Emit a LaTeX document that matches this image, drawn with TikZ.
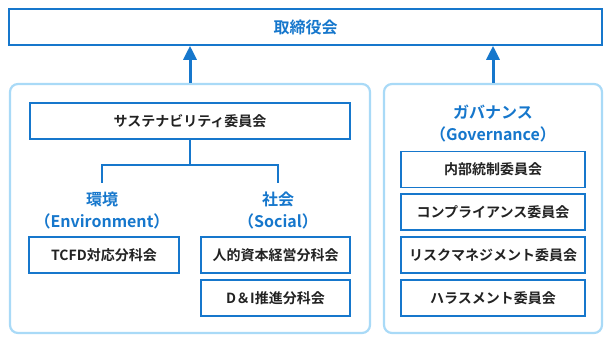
\documentclass[tikz,border=0pt]{standalone}
\usepackage{fontspec}
\setmainfont{Noto Sans CJK JP}[BoldFont={Noto Sans CJK JP Bold}]
\usepackage{tikz}
\usetikzlibrary{arrows.meta, positioning}
\definecolor{orgblue}{HTML}{1677CC}
\definecolor{grpblue}{HTML}{A9DAF7}
\definecolor{txtdark}{HTML}{222222}

\begin{document}
\begin{tikzpicture}[
  x=1pt, y=-1pt,
  every node/.style={font=\fontsize{14}{17}\selectfont\bfseries, text=txtdark},
  combox/.style={draw=orgblue, line width=1.6pt, minimum height=36pt, inner sep=0pt},
  grpbox/.style={draw=grpblue, line width=2.2pt, rounded corners=8pt, inner sep=0pt},
  headlabel/.style={font=\fontsize{16}{22}\selectfont\bfseries, text=orgblue, align=center, inner xsep=0pt, inner ysep=9pt},
  arrow/.style={-{Triangle[length=14pt, width=13pt]}, line width=3pt, draw=orgblue},
  branch/.style={draw=orgblue, line width=1.6pt},
]
\useasboundingbox (0,0) rectangle (612,342);

% Board of directors
\node[combox, minimum width=593pt, text=orgblue, font=\fontsize{16}{20}\selectfont\bfseries] (board) at (305.5,27) {取締役会};

% Group frames
\node[grpbox, minimum width=360pt, minimum height=249pt] (sustgrp) at (190,208.5) {};
\node[grpbox, minimum width=218pt, minimum height=249pt] (govgrp) at (493,208.5) {};

% Arrows up to the board
\draw[arrow] (sustgrp.north) -- (sustgrp.north |- board.south);
\draw[arrow] (govgrp.north) -- (govgrp.north |- board.south);

% Sustainability committee
\node[combox, minimum width=320pt] (sus) at (190,121) {サステナビリティ委員会};

% Environment / Social
\node[headlabel] (env) at (102,211) {環境\\（Environment）};
\node[headlabel] (soc) at (278,211) {社会\\（Social）};
\draw[branch] (sus.south) -- ++(0,25) -| (env.north);
\draw[branch] (sus.south) -- ++(0,25) -| (soc.north);

% Sub-committees
\node[combox, minimum width=150pt] (tcfd) at (104,255) {TCFD対応分科会};
\node[combox, minimum width=149pt] (hcm) at (275.5,255) {人的資本経営分科会};
\node[combox, minimum width=149pt] (dni) at (275.5,298) {D＆I推進分科会};

% Governance
\node[headlabel, inner ysep=0pt] (gov) at (493,123.5) {ガバナンス\\（Governance）};
\foreach \name/\y/\lab in {ic/169.5/内部統制委員会, comp/212/コンプライアンス委員会, risk/255/リスクマネジメント委員会, har/298/ハラスメント委員会} {
  \node[combox, minimum width=184pt] (\name) at (493,\y) {\lab};
}

\end{tikzpicture}
\end{document}
